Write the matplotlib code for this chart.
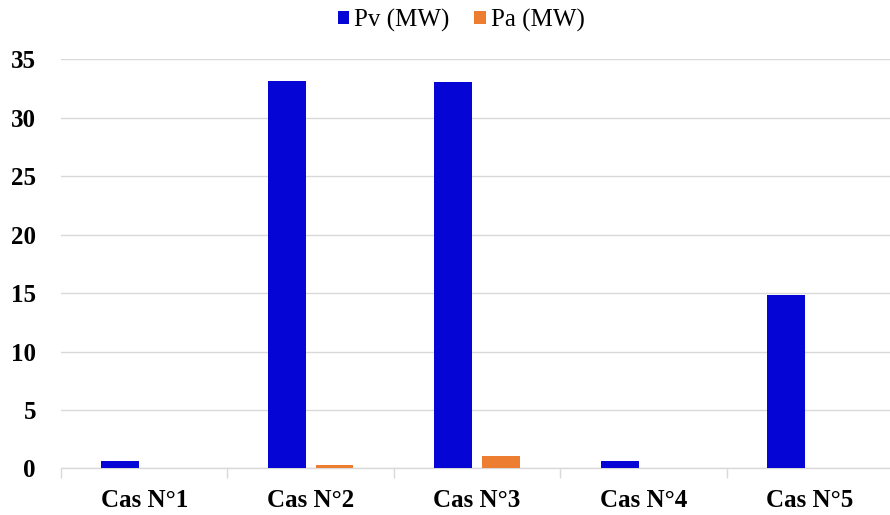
import matplotlib
matplotlib.use("Agg")
import matplotlib.pyplot as plt
import numpy as np

categories = ["Cas N°1", "Cas N°2", "Cas N°3", "Cas N°4", "Cas N°5"]
pv = [0.65, 33.1, 33.0, 0.65, 14.8]
pa = [0.0, 0.33, 1.05, 0.0, 0.0]
yticks = [0, 5, 10, 15, 20, 25, 30, 35]

plt.rcParams['font.family'] = ['Liberation Serif', 'DejaVu Serif']

fig = plt.figure(figsize=(8.9, 5.15), dpi=100)
ax = fig.add_axes([0.0685, 0.0903, 0.935, 0.7951])

x = np.arange(len(categories))
w = 0.227
ax.bar(x - 0.143, pv, w, color='#0505D5', label='Pv (MW)', zorder=3)
ax.bar(x + 0.143, pa, w, color='#ED7D31', label='Pa (MW)', zorder=3)

ax.set_xlim(-0.5, len(categories) - 0.5)
ax.set_ylim(0, 35)
ax.set_yticks(yticks)
ax.set_yticklabels([str(t) for t in yticks], fontsize=18, fontweight='bold')
ax.set_xticks(x)
ax.set_xticklabels(categories, fontsize=18, fontweight='bold')
ax.set_xticks(np.arange(-0.5, len(categories)), minor=True)
ax.tick_params(axis='x', which='major', length=0, pad=15)
ax.tick_params(axis='x', which='minor', length=7, color='#d9d9d9', width=1)
ax.tick_params(axis='y', length=0, pad=18)
ax.grid(axis='y', color='#d9d9d9', linewidth=1, zorder=0)
for s in ['top', 'right', 'left']:
    ax.spines[s].set_visible(False)
ax.spines['bottom'].set_color('#d9d9d9')
ax.spines['bottom'].set_linewidth(1)

ax.legend(loc='center', bbox_to_anchor=(0.481, 1.095), ncol=2, frameon=False,
          fontsize=18, handlelength=0.45, handleheight=0.45, handletextpad=0.2,
          columnspacing=1.0)

fig.savefig("out.png", dpi=100)
